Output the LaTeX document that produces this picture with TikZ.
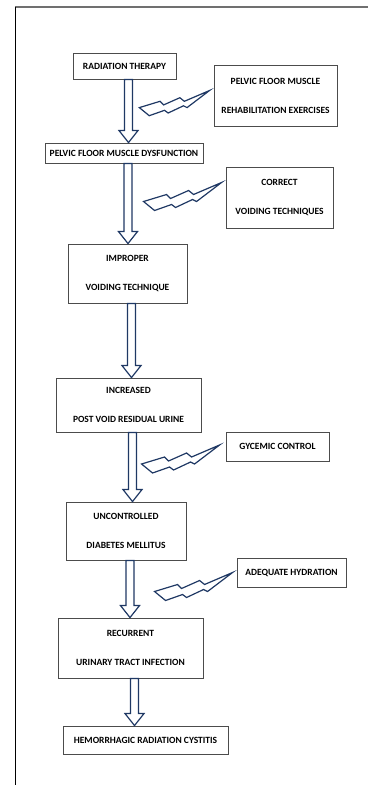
\documentclass[tikz,border=0pt]{standalone}
\usepackage{fontspec}
\setmainfont{Carlito}
\usetikzlibrary{calc}
\definecolor{navy}{HTML}{1F3864}
\definecolor{framegray}{HTML}{707070}
\tikzset{
  box/.style={draw=black!70, line width=0.9pt, inner sep=0pt, align=center,
    text=black, font=\bfseries\fontsize{9.5}{29}\selectfont},
  arrowline/.style={draw=navy, line width=1.2pt, fill=white, line join=miter},
  boltline/.style={draw=navy, line width=1.2pt, line join=miter},
  bolt/.pic={\draw[boltline] (0,0) -- (-28,12) -- (-33,8) -- (-51,16) -- (-55,12)
      -- (-78,19) -- (-67,28) -- (-50,22) -- (-46,25) -- (-29,17) -- (-25,19) -- cycle;}
}
% hollow block arrow from the bottom of #1 to the top of #2
\newcommand\hollowarrow[2]{%
  \draw[arrowline] let \p1=([xshift=4pt]#1.south), \p2=(#2.north) in
    (\x1-4pt,\y1) -- (\x1-4pt,\y2+12pt) -- (\x1-9.5pt,\y2+12pt) -- (\x1,\y2)
    -- (\x1+9.5pt,\y2+12pt) -- (\x1+4pt,\y2+12pt) -- (\x1+4pt,\y1) -- cycle;}
\begin{document}
\begin{tikzpicture}[x=1pt, y=-1pt]
  \useasboundingbox (0,0) rectangle (368,785);
  \draw[framegray, line width=2pt] (15,7) -- (368,7);
  \draw[black, line width=1pt] (15,7) -- (15,785);

  % main chain
  \node[box, minimum width=103, minimum height=26] (rt) at (124.5,66) {RADIATION THERAPY};
  \node[box, minimum width=158, minimum height=20] (pfmd) at (124,153) {PELVIC FLOOR MUSCLE DYSFUNCTION};
  \node[box, minimum width=119, minimum height=59] (improper) at (127.5,273.5) {IMPROPER\\VOIDING TECHNIQUE};
  \node[box, minimum width=145, minimum height=54] (pvr) at (128.5,405) {INCREASED\\POST VOID RESIDUAL URINE};
  \node[box, minimum width=120, minimum height=58] (dm) at (126,531) {UNCONTROLLED\\DIABETES MELLITUS};
  \node[box, minimum width=145, minimum height=60] (uti) at (130.5,648) {RECURRENT\\URINARY TRACT INFECTION};
  \node[box, minimum width=165, minimum height=28] (hrc) at (145.5,740) {HEMORRHAGIC RADIATION CYSTITIS};

  % measures
  \node[box, minimum width=123, minimum height=61] (rehab) at (275.5,95.5) {PELVIC FLOOR MUSCLE\\REHABILITATION EXERCISES};
  \node[box, minimum width=107, minimum height=61] (voiding) at (279.5,197.5) {CORRECT\\VOIDING TECHNIQUES};
  \node[box, minimum width=103, minimum height=29] (glycemic) at (277.5,446.5) {GYCEMIC CONTROL};
  \node[box, minimum width=109, minimum height=29] (hydration) at (291.5,572.5) {ADEQUATE HYDRATION};

  \hollowarrow{rt}{pfmd}
  \hollowarrow{pfmd}{improper}
  \hollowarrow{improper}{pvr}
  \hollowarrow{pvr}{dm}
  \hollowarrow{dm}{uti}
  \hollowarrow{uti}{hrc}

  \pic[scale=0.9] at ([shift={(-4,-5)}]rehab.west) {bolt};
  \pic at ([shift={(-4,-15)}]voiding.west) {bolt};
  \pic at ([shift={(-6,-1.5)}]glycemic.west) {bolt};
  \pic at ([shift={(-4,0)}]hydration.west) {bolt};
\end{tikzpicture}
\end{document}
